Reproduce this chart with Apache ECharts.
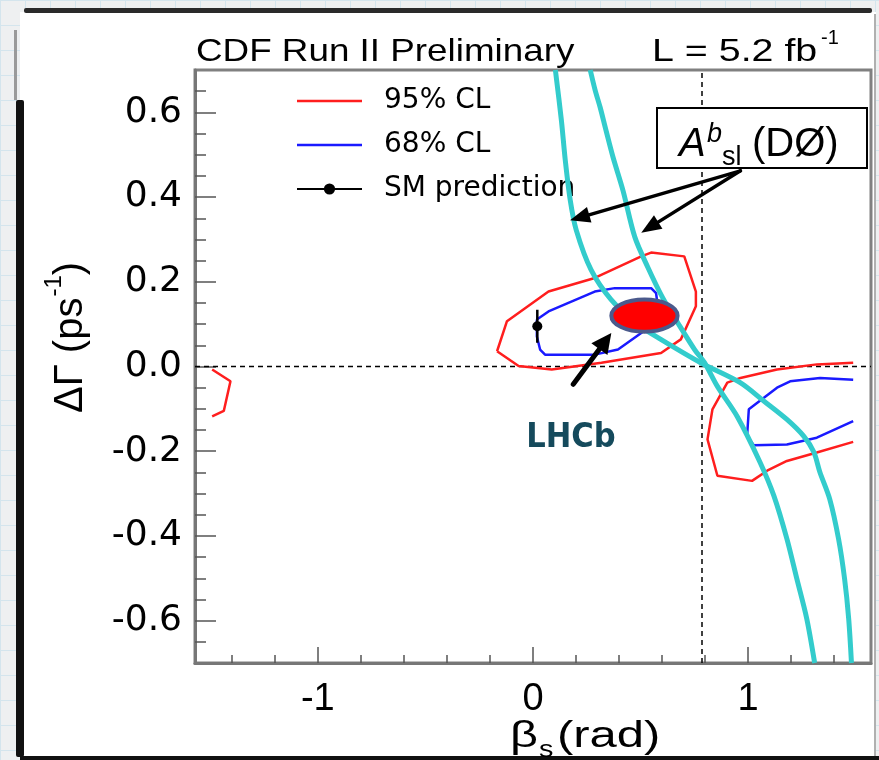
<!DOCTYPE html>
<html>
<head>
<meta charset="utf-8">
<script src="https://cdn.jsdelivr.net/npm/echarts@6/dist/echarts.min.js"></script>
<style>
  html, body { margin: 0; padding: 0; }
  body {
    width: 879px; height: 760px; overflow: hidden;
    background-color: #eef0f1;
    background-image:
      linear-gradient(#d4e5ed 1px, transparent 1px),
      linear-gradient(90deg, #d4e5ed 1px, transparent 1px);
    background-size: 25px 25px;
  }
  #chart { width: 879px; height: 760px; }
</style>
</head>
<body>
<div id="chart"></div>
<script>
// ---- axis ticks ----
const xMajorTicks = [-1, 0, 1];
const xMinorTicks = [-1.4, -1.2, -0.8, -0.6, -0.4, -0.2, 0.2, 0.4, 0.6, 0.8, 1.2, 1.4];
const yMajorTicks = [-0.6, -0.4, -0.2, 0, 0.2, 0.4, 0.6];
const yMinorTicks = [-0.65, -0.55, -0.5, -0.45, -0.35, -0.3, -0.25, -0.15, -0.1, -0.05,
                     0.05, 0.1, 0.15, 0.25, 0.3, 0.35, 0.45, 0.5, 0.55, 0.65];
const xRange = [-Math.PI / 2, Math.PI / 2];
const yRange = [-0.7, 0.7];

// ---- CDF likelihood contours (beta_s [rad], DeltaGamma [ps^-1]) ----
const cl95Central = [
  [-0.167, 0.036], [-0.121, 0.107], [0.072, 0.177], [0.287, 0.209], [0.503, 0.260],
  [0.549, 0.269], [0.703, 0.260], [0.757, 0.177], [0.757, 0.142], [0.687, 0.064],
  [0.595, 0.032], [0.318, 0.009], [0.087, -0.007], [-0.067, 0.001], [-0.167, 0.036]
];
const cl95Right = [
  [1.488, 0.009], [1.319, 0.005], [1.134, -0.007], [0.964, -0.027], [0.903, -0.038],
  [0.834, -0.101], [0.811, -0.172], [0.857, -0.258], [1.018, -0.270], [1.088, -0.246],
  [1.180, -0.223], [1.319, -0.203], [1.488, -0.178]
];
const cl95Left = [
  [-1.491, -0.007], [-1.406, -0.035], [-1.437, -0.105], [-1.491, -0.118]
];
const cl68Central = [
  [0.018, 0.111], [0.072, 0.130], [0.287, 0.177], [0.380, 0.185], [0.549, 0.185],
  [0.572, 0.173], [0.577, 0.154], [0.533, 0.095], [0.503, 0.079], [0.395, 0.040],
  [0.287, 0.028], [0.056, 0.028], [0.033, 0.040], [0.018, 0.071], [0.018, 0.111]
];
const cl68Right = [
  [1.488, -0.031], [1.334, -0.027], [1.195, -0.035], [1.134, -0.050], [1.003, -0.101],
  [0.995, -0.164], [1.026, -0.186], [1.180, -0.184], [1.319, -0.168], [1.488, -0.129]
];

// ---- Standard Model prediction ----
const smPoint = [0.02, 0.095];
const smError = 0.039;

// ---- D0 semileptonic asymmetry band edges ----
const aslEdgeLeft = [
  [0.104, 0.700], [0.132, 0.581], [0.150, 0.487], [0.173, 0.393], [0.201, 0.322],
  [0.270, 0.228], [0.363, 0.158], [0.487, 0.099], [0.594, 0.064], [0.779, 0.009],
  [0.963, -0.038], [1.074, -0.082], [1.180, -0.125], [1.259, -0.165], [1.305, -0.202],
  [1.333, -0.249], [1.379, -0.313], [1.420, -0.407], [1.448, -0.501], [1.467, -0.595],
  [1.480, -0.700]
];
const aslEdgeRight = [
  [0.266, 0.700], [0.289, 0.652], [0.312, 0.612], [0.339, 0.558], [0.372, 0.494],
  [0.418, 0.416], [0.473, 0.306], [0.533, 0.235], [0.603, 0.162], [0.672, 0.104],
  [0.751, 0.040], [0.797, 0.009], [0.857, -0.047], [0.949, -0.118], [1.055, -0.226],
  [1.120, -0.306], [1.180, -0.407], [1.226, -0.501], [1.272, -0.595], [1.309, -0.700]
];

// ---- LHCb measurement (centre, half-widths) ----
const lhcbEllipse = [[0.518, 0.120, 0.154, 0.038]];

// ---- annotation arrows: [fromX, fromY, toX, toY] ----
const lhcbArrow = [[0.187, -0.042, 0.364, 0.079]];
const aslArrows = [[0.964, 0.462, 0.172, 0.345], [0.964, 0.462, 0.503, 0.316]];

// ---- reference lines ----
const zeroLine = [[xRange[0], 0], [xRange[1], 0]];
const quarterPiLine = [[Math.PI / 4, yRange[0]], [Math.PI / 4, yRange[1]]];

const FONT = '"Liberation Sans", Arial, Helvetica, sans-serif';
const WIDE_FONT = '"DejaVu Sans", "Liberation Sans", sans-serif';
const RED = '#ff1e1e';
const BLUE = '#1a1aff';
const CYAN = '#33cccc';

// text width helper for composing super/subscripts
const measureCtx = document.createElement('canvas').getContext('2d');
function textWidth(text, font) {
  measureCtx.font = font;
  return measureCtx.measureText(text).width;
}

const chart = echarts.init(document.getElementById('chart'), null, { renderer: 'canvas' });

function arrowRenderer(lineWidth, headLen, headHalf) {
  return function (params, api) {
    const p0 = api.coord([api.value(0), api.value(1)]);
    const p1 = api.coord([api.value(2), api.value(3)]);
    const dx = p1[0] - p0[0], dy = p1[1] - p0[1];
    const len = Math.sqrt(dx * dx + dy * dy);
    const ux = dx / len, uy = dy / len;
    const bx = p1[0] - ux * headLen, by = p1[1] - uy * headLen;
    return {
      type: 'group',
      children: [
        { type: 'line', shape: { x1: p0[0], y1: p0[1], x2: bx + ux * 2, y2: by + uy * 2 },
          style: { stroke: '#000', lineWidth: lineWidth, lineCap: 'round' } },
        { type: 'polygon',
          shape: { points: [[p1[0], p1[1]],
                            [bx - uy * headHalf, by + ux * headHalf],
                            [bx + uy * headHalf, by - ux * headHalf]] },
          style: { fill: '#000' } }
      ]
    };
  };
}

function contour(name, data, color) {
  return {
    type: 'line', name: name, data: data, symbol: 'none', silent: true,
    color: color, lineStyle: { color: color, width: 2.5 }, z: 3
  };
}

const LINE_ICON = 'path://M0,0H64V2.4H0Z';

// y axis title pieces
const yTitleFont = '40px ' + FONT;
const yTitleMain = '\u0394\u0393 (ps';
const yTitleMainW = textWidth(yTitleMain, yTitleFont);
const yTitleSupW = textWidth('-1', '24px ' + FONT);

const option = {
  animation: false,
  backgroundColor: 'transparent',
  grid: {
    left: 195, right: 8, top: 70, bottom: 97, show: true,
    backgroundColor: '#fff', borderColor: '#808080', borderWidth: 3
  },
  xAxis: [
    {
      type: 'value', min: xRange[0], max: xRange[1], position: 'bottom',
      splitLine: { show: false },
      axisLine: { show: true, onZero: false, lineStyle: { color: '#777', width: 3 } },
      axisTick: { show: true, inside: true, length: 16, customValues: xMajorTicks,
                  lineStyle: { color: '#555', width: 1.5 } },
      axisLabel: { customValues: xMajorTicks, fontFamily: FONT, fontSize: 38, color: '#000',
                   margin: 18, formatter: v => String(Math.round(v)) }
    },
    {
      type: 'value', min: xRange[0], max: xRange[1], position: 'bottom',
      splitLine: { show: false },
      axisLine: { show: false, onZero: false },
      axisTick: { show: true, inside: true, length: 8, customValues: xMinorTicks,
                  lineStyle: { color: '#555', width: 1.5 } },
      axisLabel: { show: false }
    }
  ],
  yAxis: [
    {
      type: 'value', min: yRange[0], max: yRange[1], position: 'left',
      splitLine: { show: false },
      axisLine: { show: true, onZero: false, lineStyle: { color: '#777', width: 3 } },
      axisTick: { show: true, inside: true, length: 21, customValues: yMajorTicks,
                  lineStyle: { color: '#555', width: 1.5 } },
      axisLabel: { customValues: yMajorTicks, fontFamily: WIDE_FONT, fontSize: 36, color: '#000',
                   margin: 13, formatter: v => v.toFixed(1) }
    },
    {
      type: 'value', min: yRange[0], max: yRange[1], position: 'left',
      splitLine: { show: false },
      axisLine: { show: false, onZero: false },
      axisTick: { show: true, inside: true, length: 11, customValues: yMinorTicks,
                  lineStyle: { color: '#555', width: 1.5 } },
      axisLabel: { show: false }
    }
  ],
  legend: {
    data: [
      { name: '95% CL', icon: LINE_ICON },
      { name: '68% CL', icon: LINE_ICON },
      { name: 'SM prediction' }
    ],
    orient: 'vertical', left: 291, top: 82,
    itemWidth: 65, itemHeight: 14, itemGap: 16,
    selectedMode: false,
    textStyle: { fontFamily: WIDE_FONT, fontSize: 28, color: '#000', padding: [0, 0, 0, 17] }
  },
  series: [
    { type: 'line', data: zeroLine, symbol: 'none', silent: true, z: 1,
      lineStyle: { color: '#000', width: 1.5, type: [5, 4] } },
    { type: 'line', data: quarterPiLine, symbol: 'none', silent: true, z: 1,
      lineStyle: { color: '#000', width: 1.5, type: [5, 4] } },
    contour('95% CL', cl95Central, RED),
    contour('95% CL', cl95Right, RED),
    contour('95% CL', cl95Left, RED),
    contour('68% CL', cl68Central, BLUE),
    contour('68% CL', cl68Right, BLUE),
    { type: 'line', name: 'SM error', silent: true, symbol: 'none', z: 4,
      data: [[smPoint[0], smPoint[1] - smError], [smPoint[0], smPoint[1] + smError]],
      lineStyle: { color: '#000', width: 2.5 } },
    { type: 'line', name: 'SM prediction', data: [smPoint], silent: true, z: 4,
      symbol: 'circle', symbolSize: 10, color: '#000',
      itemStyle: { color: '#000' }, lineStyle: { color: '#000', width: 2 } },
    { type: 'line', data: aslEdgeLeft, symbol: 'none', silent: true, smooth: 0.3, z: 5,
      lineStyle: { color: CYAN, width: 5 } },
    { type: 'line', data: aslEdgeRight, symbol: 'none', silent: true, smooth: 0.3, z: 5,
      lineStyle: { color: CYAN, width: 5 } },
    { type: 'custom', data: lhcbEllipse, silent: true, z: 6, clip: true,
      renderItem: function (params, api) {
        const c = api.coord([api.value(0), api.value(1)]);
        const s = api.size([api.value(2), api.value(3)]);
        return { type: 'ellipse', shape: { cx: c[0], cy: c[1], rx: s[0], ry: s[1] },
                 style: { fill: '#ff0000', stroke: '#4b5a8c', lineWidth: 4 } };
      } },
    { type: 'custom', data: lhcbArrow, silent: true, z: 7, renderItem: arrowRenderer(5, 20, 10) },
    { type: 'custom', data: aslArrows, silent: true, z: 7, renderItem: arrowRenderer(3.5, 20, 8) }
  ],
  graphic: [
    // page card
    { type: 'rect', z: -20, shape: { x: 20, y: 12, width: 856, height: 746 }, style: { fill: '#fff' } },
    { type: 'rect', z: -19, shape: { x: 24, y: 8, width: 848, height: 5, r: 2 }, style: { fill: '#2a2a2a' } },
    { type: 'rect', z: -19, shape: { x: 16, y: 100, width: 8, height: 657, r: 2 }, style: { fill: '#111' } },
    { type: 'rect', z: -19, shape: { x: 14, y: 30, width: 3, height: 70 }, style: { fill: '#9a9a9a' } },
    { type: 'rect', z: -19, shape: { x: 20, y: 756, width: 859, height: 4 }, style: { fill: '#111' } },
    { type: 'rect', z: -19, shape: { x: 874, y: 14, width: 2, height: 742 }, style: { fill: '#b0b0b0' } },
    // header texts
    { type: 'text', z: 50, x: 196, y: 52, scaleX: 1.15,
      style: { text: 'CDF Run II Preliminary', font: '32px ' + FONT, fill: '#000',
               textAlign: 'left', textVerticalAlign: 'middle' } },
    { type: 'text', z: 50, x: 652, y: 52, scaleX: 1.23,
      style: { text: 'L = 5.2 fb', font: '32px ' + FONT, fill: '#000',
               textAlign: 'left', textVerticalAlign: 'middle' } },
    { type: 'text', z: 50, x: 821, y: 38,
      style: { text: '-1', font: '20px ' + FONT, fill: '#000',
               textAlign: 'left', textVerticalAlign: 'middle' } },
    // y axis title (reads bottom to top)
    { type: 'group', z: 50, x: 71, y: 413, rotation: Math.PI / 2,
      children: [
        { type: 'text', x: 0, y: 0,
          style: { text: yTitleMain, font: yTitleFont, fill: '#000',
                   textAlign: 'left', textVerticalAlign: 'middle' } },
        { type: 'text', x: yTitleMainW + 1, y: -17,
          style: { text: '-1', font: '24px ' + FONT, fill: '#000',
                   textAlign: 'left', textVerticalAlign: 'middle' } },
        { type: 'text', x: yTitleMainW + yTitleSupW + 1, y: 0,
          style: { text: ')', font: yTitleFont, fill: '#000',
                   textAlign: 'left', textVerticalAlign: 'middle' } }
      ] },
    // x axis title
    { type: 'text', z: 50, x: 510, y: 737, scaleX: 1.35,
      style: { text: '\u03b2', font: '36px ' + FONT, fill: '#000', textAlign: 'left', textVerticalAlign: 'middle' } },
    { type: 'text', z: 50, x: 539, y: 750, scaleX: 1.2,
      style: { text: 's', font: '24px ' + FONT, fill: '#000', textAlign: 'left', textVerticalAlign: 'middle' } },
    { type: 'text', z: 50, x: 557, y: 737, scaleX: 1.36,
      style: { text: '(rad)', font: '36px ' + FONT, fill: '#000', textAlign: 'left', textVerticalAlign: 'middle' } },
    // D0 asymmetry label box
    { type: 'rect', z: 50, shape: { x: 657, y: 108, width: 210, height: 60 },
      style: { fill: '#fff', stroke: '#000', lineWidth: 2 } },
    { type: 'text', z: 51, x: 679, y: 145,
      style: { text: 'A', font: 'italic 40px ' + FONT, fill: '#000', textAlign: 'left', textVerticalAlign: 'middle' } },
    { type: 'text', z: 51, x: 707, y: 134,
      style: { text: 'b', font: 'italic 27px ' + FONT, fill: '#000', textAlign: 'left', textVerticalAlign: 'middle' } },
    { type: 'text', z: 51, x: 722, y: 158,
      style: { text: 'sl', font: '27px ' + FONT, fill: '#000', textAlign: 'left', textVerticalAlign: 'middle' } },
    { type: 'text', z: 51, x: 752, y: 145,
      style: { text: '(D\u00d8)', font: '40px ' + FONT, fill: '#000', textAlign: 'left', textVerticalAlign: 'middle' } },
    // LHCb label
    { type: 'text', z: 51, x: 571, y: 438,
      style: { text: 'LHCb', font: 'bold 34px "DejaVu Sans Condensed", "DejaVu Sans", sans-serif',
               fill: '#154a5c', textAlign: 'center', textVerticalAlign: 'middle' } }
  ]
};

chart.setOption(option);
</script>
</body>
</html>
